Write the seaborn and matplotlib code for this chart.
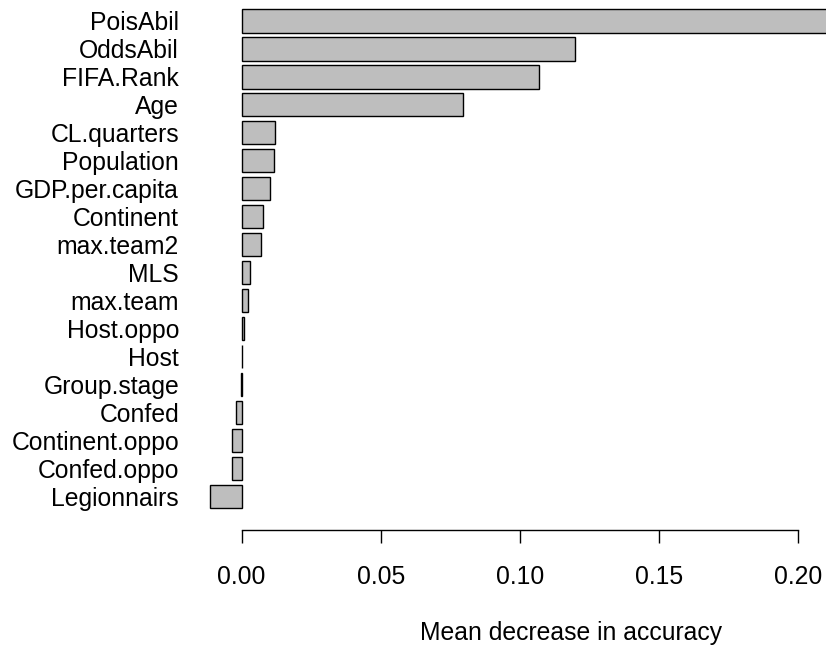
import matplotlib
matplotlib.use("Agg")
import matplotlib.pyplot as plt
import seaborn as sns
import pandas as pd

# importancia de variables (mean decrease in accuracy)
variables = ["PoisAbil", "OddsAbil", "FIFA.Rank", "Age", "CL.quarters", "Population",
             "GDP.per.capita", "Continent", "max.team2", "MLS", "max.team", "Host.oppo",
             "Host", "Group.stage", "Confed", "Continent.oppo", "Confed.oppo", "Legionnairs"]
importancia = [0.225, 0.1198, 0.1068, 0.0795, 0.0119, 0.0116,
               0.0103, 0.0078, 0.0068, 0.0029, 0.0024, 0.0008,
               0.0002, -0.0004, -0.0022, -0.0033, -0.0035, -0.0115]
ticks_x = [0.00, 0.05, 0.10, 0.15, 0.20]

df = pd.DataFrame({"variable": variables, "importancia": importancia})

sns.set_style("white")
plt.rcParams["font.family"] = ["Liberation Sans", "DejaVu Sans"]
fs = 17.8

fig = plt.figure(figsize=(8.26, 6.48), dpi=100)
ax = fig.add_axes([186 / 826, (648 - 530) / 648, 1 - 186 / 826, 530 / 648])

sns.barplot(data=df, x="importancia", y="variable", orient="h", color="#bebebe",
            saturation=1, edgecolor="black", linewidth=1.0, width=0.833, ax=ax)

ax.set_xlim(-0.02, 0.2101)
ax.set_ylim(18.21, -0.75)

for s in ["top", "right", "left"]:
    ax.spines[s].set_visible(False)
ax.spines["bottom"].set_bounds(0, 0.2)
ax.spines["bottom"].set_linewidth(1.0)
ax.spines["bottom"].set_color("black")

ax.set_xticks(ticks_x)
ax.set_xticklabels([f"{t:.2f}" for t in ticks_x])
ax.tick_params(axis="x", length=9.5, width=1.0, pad=16, labelsize=fs, direction="out",
               bottom=True, color="black", labelcolor="black")
ax.tick_params(axis="y", length=0, pad=5, labelsize=fs, labelcolor="black")
ax.set_ylabel("")
ax.set_xlabel("Mean decrease in accuracy", fontsize=fs, color="black")
# en R el titulo del eje se centra en la region del grafico (mas ancha que la imagen)
ax.xaxis.set_label_coords((571 - 186) / 640, -(633 - 530) / 530, transform=ax.transAxes)
ax.xaxis.label.set_va("center")

fig.savefig("out.png", dpi=100)
